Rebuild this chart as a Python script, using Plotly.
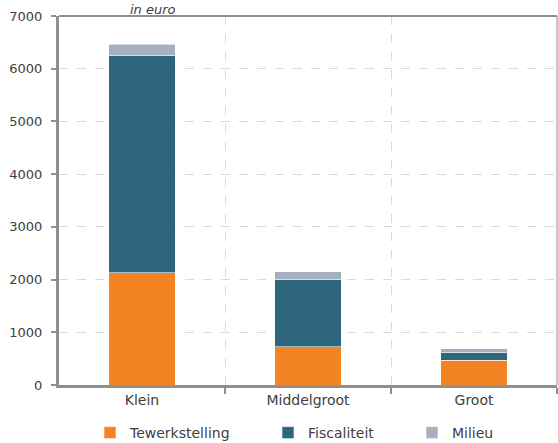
import plotly.graph_objects as go

# Categories and stacked components (in euro)
categories = ["Klein", "Middelgroot", "Groot"]
tewerkstelling = [2130, 730, 470]
fiscaliteit = [4130, 1275, 145]
milieu = [200, 145, 75]

series_names = ["Tewerkstelling", "Fiscaliteit", "Milieu"]
series_values = [tewerkstelling, fiscaliteit, milieu]
series_colors = ["#F48423", "#2E667C", "#A5B0BE"]

y_ticks = [0, 1000, 2000, 3000, 4000, 5000, 6000, 7000]

W, H = 558, 443
ML, MR, MT, MB = 59, 1, 16, 58
plot_w = W - ML - MR
plot_h = H - MT - MB

font_family = "'DejaVu Sans', sans-serif"
text_color = "#404040"
axis_color = "#8f8f8f"


def px_to_paper_x(px):
    return (px - ML) / plot_w


def px_to_paper_y(py):
    return (MT + plot_h - py) / plot_h


x_pos = list(range(len(categories)))

fig = go.Figure()
legend_ids = ["legend", "legend2", "legend3"]
for name, vals, color, lg in zip(series_names, series_values, series_colors, legend_ids):
    fig.add_trace(go.Bar(
        x=x_pos, y=vals, name=name, width=0.4,
        marker=dict(color=color, line=dict(color="rgba(255,255,255,0.7)", width=0.8)),
        legend=lg,
    ))

# one legend box per series, laid out along the bottom
legend_px = [90, 268, 412]
legends = {}
for lg, px in zip(legend_ids, legend_px):
    legends[lg] = dict(
        orientation="h", yanchor="middle", xanchor="left",
        x=px_to_paper_x(px), y=px_to_paper_y(433),
        font=dict(family=font_family, size=14, color=text_color),
        bgcolor="rgba(0,0,0,0)", itemwidth=30,
    )

fig.update_layout(
    width=W, height=H,
    margin=dict(l=ML, r=MR, t=MT, b=MB, autoexpand=False),
    paper_bgcolor="white", plot_bgcolor="white",
    barmode="stack",
    font=dict(family=font_family, size=13, color=text_color),
    showlegend=True,
    **legends,
    xaxis=dict(
        range=[-0.5, 2.5],
        tickvals=x_pos, ticktext=categories,
        ticks="", showgrid=False, zeroline=False,
        showline=True, linecolor=axis_color, linewidth=3,
        tickfont=dict(family=font_family, size=14, color=text_color),
        minor=dict(tickvals=[0.5, 1.5, 2.5], ticks="outside", ticklen=6,
                   tickcolor=axis_color, tickwidth=2,
                   showgrid=True, gridcolor="#d9d9d9", griddash="dash", gridwidth=1),
        fixedrange=True,
    ),
    yaxis=dict(
        range=[0, 7000], tickvals=y_ticks,
        ticks="outside", ticklen=5, tickcolor=axis_color, tickwidth=2,
        showgrid=True, gridcolor="#d9d9d9", griddash="dash", gridwidth=1,
        zeroline=False,
        showline=True, linecolor=axis_color, linewidth=3,
        tickfont=dict(family=font_family, size=13, color=text_color),
        ticklabelstandoff=6,
    ),
    shapes=[
        dict(type="line", xref="paper", yref="paper", x0=0, x1=1, y0=1, y1=1,
             line=dict(color=axis_color, width=2)),
        dict(type="line", xref="paper", yref="paper", x0=1, x1=1, y0=0, y1=1,
             line=dict(color=axis_color, width=1)),
    ],
    annotations=[
        dict(text="<i>in euro</i>", xref="paper", yref="paper",
             x=px_to_paper_x(153), y=px_to_paper_y(0),
             xanchor="center", yanchor="top", showarrow=False,
             font=dict(family=font_family, size=13, color=text_color)),
    ],
)

fig.write_html("out.html")
